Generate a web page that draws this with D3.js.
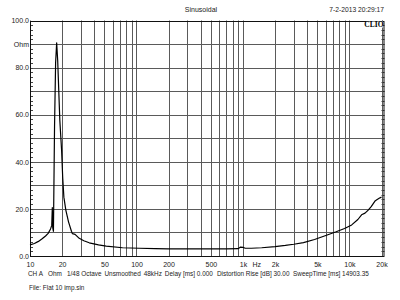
<!DOCTYPE html>
<html>
<head>
<meta charset="utf-8">
<script src="https://cdn.jsdelivr.net/npm/d3@7"></script>
<style>
  body { margin: 0; background: #fff; }
  svg { display: block; font-family: "Liberation Sans", Arial, sans-serif; }
  .axis path, .axis line { display: none; }
  .axis text { font-size: 7px; fill: #222; }
</style>
</head>
<body>
<div id="chart"></div>
<script>
// Impedance sweep
const freqs = [10, 11, 12, 13, 14, 14.8, 15.6, 16.0, 16.2, 16.35, 16.6, 17.0, 17.4, 17.8, 18.2, 19.06, 19.8, 20.3, 20.8, 21.7, 23, 24.5, 25, 26.5, 29, 32, 36, 44, 52, 74, 106, 150, 200, 300, 500, 700, 900, 950, 1000, 1050, 1200, 1500, 2000, 2500, 3000, 3700, 4700, 6000, 7500, 9000, 10500, 12000, 13000, 14000, 15000, 16000, 17500, 19000, 20000];
const ohms = [4.7, 5.3, 6.2, 7.3, 8.5, 9.6, 11.5, 13, 20.5, 12, 10.5, 55, 82, 90.5, 83, 57.6, 45, 33, 25, 19.5, 14.5, 10.5, 9.5, 9.2, 7.5, 6.5, 5.6, 4.7, 4.2, 3.5, 3.3, 3.1, 3.0, 3.0, 3.0, 3.05, 3.1, 3.8, 3.7, 3.3, 3.3, 3.5, 4.0, 4.5, 5.0, 5.7, 7.0, 8.7, 10.3, 11.7, 13.2, 15.5, 17.5, 18.2, 19.5, 21, 23.5, 24.5, 25];

const xTicks = [10, 20, 50, 100, 200, 500, 1000, 2000, 5000, 10000, 20000];
const xTickLabels = ["10", "20", "50", "100", "200", "500", "1k", "2k", "5k", "10k", "20k"];
const yTicks = [0, 20, 40, 60, 80, 90, 100];
const yTickLabels = ["0.0", "20.0", "40.0", "60.0", "80.0", "Ohm", "100.0"];

const title = "Sinusoidal";
const stamp = "7-2-2013 20:29:17";
const info1 = ["CH A", "Ohm", "1/48 Octave", "Unsmoothed", "48kHz", "Delay [ms] 0.000", "Distortion Rise [dB] 30.00", "SweepTime [ms] 14903.35"];
const info1X = [28, 48, 67, 103, 135, 155, 217, 293];
const info2 = "File: Flat 10 imp.sin";

const width = 400, height = 300,
    margin = ({ top: 20.5, right: 15.5, bottom: 44, left: 30 });

const svg = d3.select("#chart")
    .append("svg")
    .attr("width", width)
    .attr("height", height);

const x = d3.scaleLog()
    .domain([10, 20000])
    .range([margin.left, 381.5]);

const y = d3.scaleLinear()
    .domain([0, 100])
    .range([height - margin.bottom, margin.top]);

const frameRight = width - margin.right;

// vertical grid: every 1-9 of each decade
let vGrid = [];
for (let dec = 10; dec <= 10000; dec *= 10) {
  for (let k = 1; k <= 9; k++) {
    if (dec * k <= 20000) vGrid.push(dec * k);
  }
}
vGrid.push(20000);

svg.append("g")
  .selectAll("line")
  .data(vGrid)
  .join("line")
    .attr("x1", d => Math.round(x(d)) + 0.5)
    .attr("x2", d => Math.round(x(d)) + 0.5)
    .attr("y1", y(100))
    .attr("y2", y(0))
    .attr("stroke", "#5a5a5a")
    .attr("stroke-width", 1);

// horizontal grid every 10 ohm
svg.append("g")
  .selectAll("line")
  .data(d3.range(10, 100, 10))
  .join("line")
    .attr("x1", margin.left)
    .attr("x2", frameRight)
    .attr("y1", d => Math.round(y(d)) + 0.5)
    .attr("y2", d => Math.round(y(d)) + 0.5)
    .attr("stroke", "#5a5a5a")
    .attr("stroke-width", 1);

// minor ticks on left and right borders
const minor = d3.range(2, 100, 2);
svg.append("g")
  .selectAll("line")
  .data(minor)
  .join("line")
    .attr("x1", margin.left)
    .attr("x2", margin.left + 3)
    .attr("y1", d => Math.round(y(d)) + 0.5)
    .attr("y2", d => Math.round(y(d)) + 0.5)
    .attr("stroke", "#444");
svg.append("g")
  .selectAll("line")
  .data(minor)
  .join("line")
    .attr("x1", frameRight - 3)
    .attr("x2", frameRight)
    .attr("y1", d => Math.round(y(d)) + 0.5)
    .attr("y2", d => Math.round(y(d)) + 0.5)
    .attr("stroke", "#444");

// frame
svg.append("rect")
    .attr("x", margin.left + 0.5)
    .attr("y", Math.round(y(100)) + 0.5)
    .attr("width", frameRight - margin.left - 1)
    .attr("height", Math.round(y(0)) - Math.round(y(100)))
    .attr("fill", "none")
    .attr("stroke", "#111")
    .attr("stroke-width", 1);

// impedance curve
const line = d3.line()
    .x((d, i) => x(freqs[i]))
    .y(d => y(d));

svg.append("path")
    .datum(ohms)
    .attr("d", line)
    .attr("fill", "none")
    .attr("stroke", "#000")
    .attr("stroke-width", 1.2)
    .attr("stroke-linejoin", "round");

// axes (labels only)
svg.append("g")
  .attr("class", "axis")
  .attr("transform", `translate(${margin.left - 1},0)`)
  .call(d3.axisLeft(y).tickValues(yTicks).tickSize(0).tickPadding(0)
    .tickFormat((d, i) => yTickLabels[i]));

svg.append("g")
  .attr("class", "axis")
  .attr("transform", `translate(0,${y(0) + 4})`)
  .call(d3.axisBottom(x).tickValues(xTicks).tickSize(0).tickPadding(2)
    .tickFormat((d, i) => xTickLabels[i]));

svg.append("text")
    .attr("x", x(1350))
    .attr("y", y(0) + 11)
    .attr("text-anchor", "middle")
    .attr("font-size", "7px")
    .attr("fill", "#222")
    .text("Hz");

// header
svg.append("text")
    .attr("x", 201)
    .attr("y", 12)
    .attr("text-anchor", "middle")
    .attr("font-size", "7px")
    .attr("fill", "#222")
    .text(title);

svg.append("text")
    .attr("x", 384)
    .attr("y", 12)
    .attr("text-anchor", "end")
    .attr("font-size", "6.7px")
    .attr("fill", "#222")
    .text(stamp);

// CLIO badge
svg.append("rect")
    .attr("x", 366)
    .attr("y", 21.5)
    .attr("width", 17)
    .attr("height", 6)
    .attr("fill", "#fff");
svg.append("text")
    .attr("x", 383.5)
    .attr("y", 27)
    .attr("text-anchor", "end")
    .attr("font-family", "'Liberation Serif', serif")
    .attr("font-weight", "bold")
    .attr("font-size", "7.5px")
    .attr("fill", "#000")
    .text("CLIO");

// footer: segments at their own positions, pushed right if they would collide
const foot = svg.append("text")
    .attr("y", 276)
    .attr("font-size", "6.4px")
    .attr("fill", "#222");

let cursor = 0;
info1.forEach((s, i) => {
  const t = foot.append("tspan")
      .attr("x", Math.max(info1X[i], cursor))
      .text(s);
  cursor = Math.max(info1X[i], cursor) + t.node().getComputedTextLength() + 3;
});

svg.append("text")
    .attr("x", 29)
    .attr("y", 290)
    .attr("font-size", "6.4px")
    .attr("fill", "#222")
    .text(info2);
</script>
</body>
</html>
